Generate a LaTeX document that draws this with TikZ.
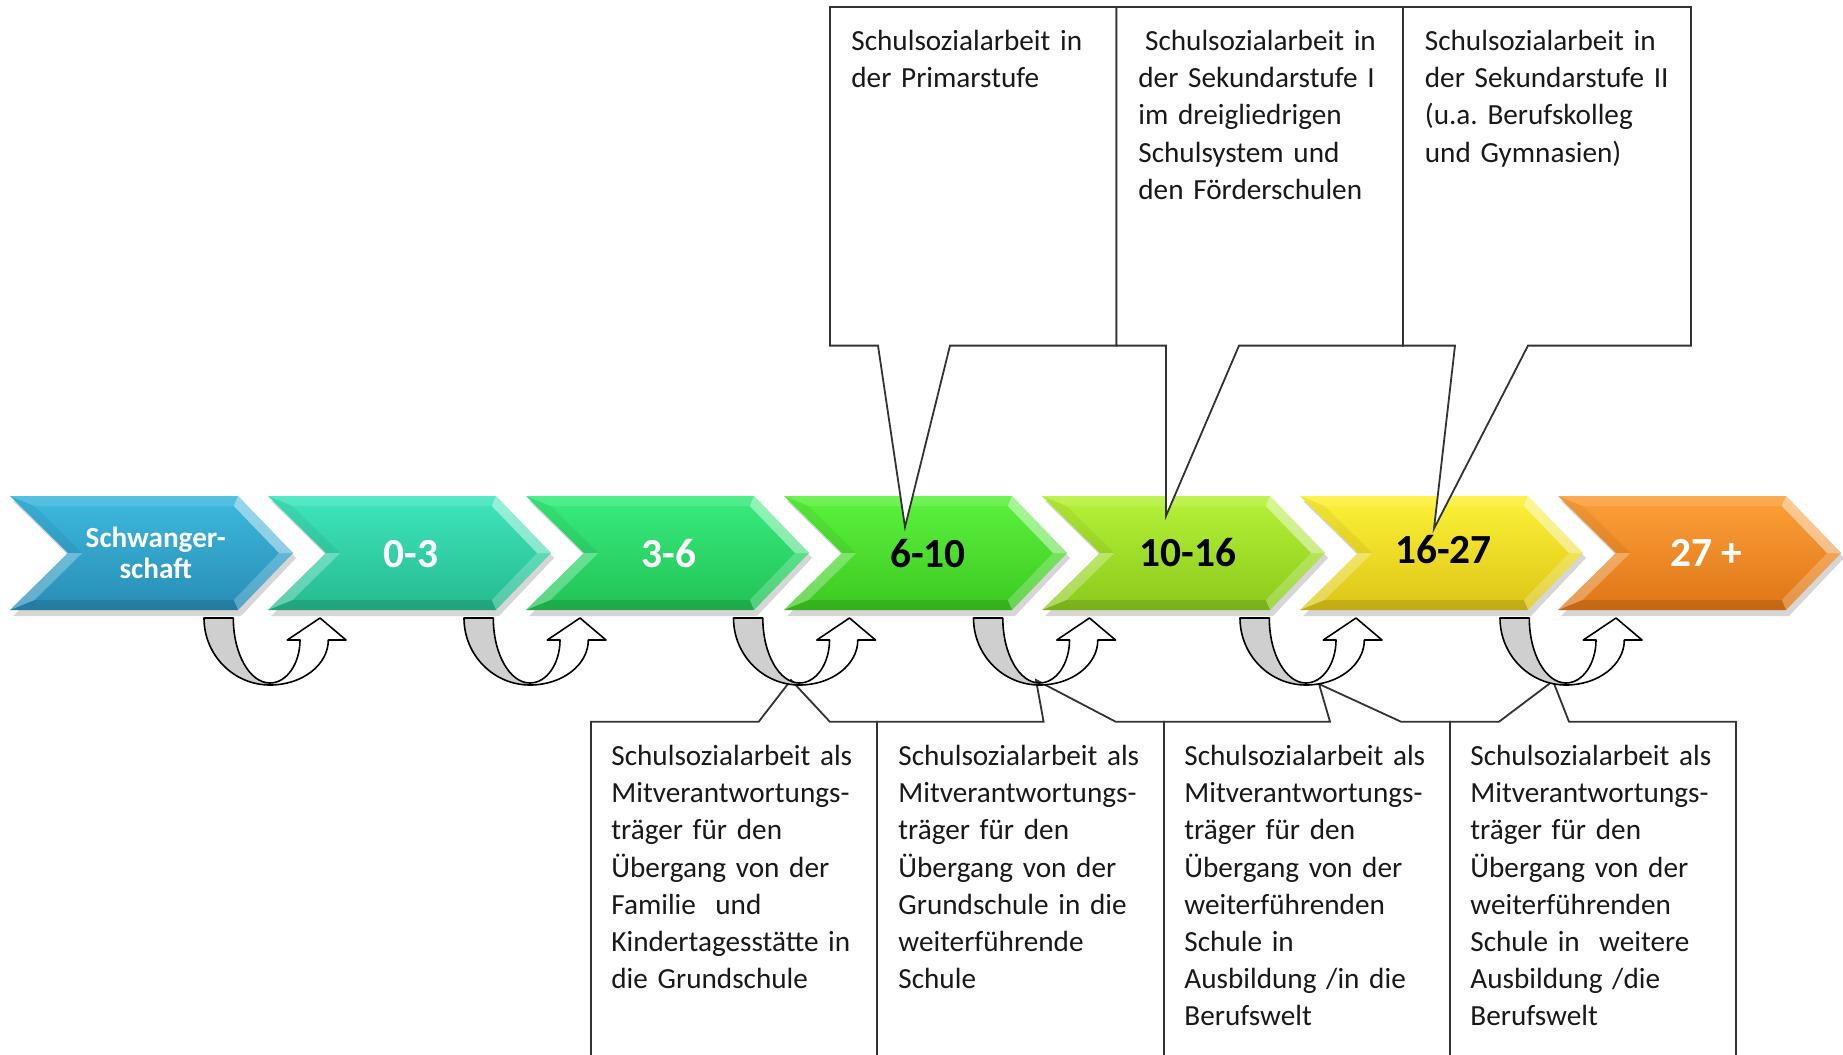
\documentclass[tikz,border=0pt]{standalone}
\usepackage{fontspec}
\setmainfont{Carlito}
\frenchspacing
\definecolor{c0t}{HTML}{3DB9DF}\definecolor{c0b}{HTML}{288DB5}
\definecolor{c1t}{HTML}{3FE6BE}\definecolor{c1b}{HTML}{25BA8D}
\definecolor{c2t}{HTML}{38EC7E}\definecolor{c2b}{HTML}{21C255}
\definecolor{c3t}{HTML}{5CF23E}\definecolor{c3b}{HTML}{3CC921}
\definecolor{c4t}{HTML}{B6F238}\definecolor{c4b}{HTML}{8BC91C}
\definecolor{c5t}{HTML}{FDF238}\definecolor{c5b}{HTML}{DCC516}
\definecolor{c6t}{HTML}{FDA03A}\definecolor{c6b}{HTML}{DE7615}
\definecolor{arrgray}{HTML}{CFCFCF}
\tikzset{
  boxline/.style={draw=black!80, line width=0.9pt, fill=white, line join=miter},
  arrline/.style={draw=black, line width=0.8pt, line join=round},
  boxtext/.style={anchor=north west, inner sep=0pt, text width=140pt, align=left,
    font=\fontsize{14.6}{18.6}\selectfont\frenchspacing, text=black!90},
  numlabel/.style={anchor=base, inner sep=0pt, font=\fontsize{20.7}{24}\selectfont\bfseries},
}
\begin{document}
\begin{tikzpicture}[x=0.5pt,y=-0.5pt]
\useasboundingbox (0,0) rectangle (1843,1055);
\clip (0,0) rectangle (1843,1055);
\fill[white] (0,0) rectangle (1843,1055);

% chevrons
\foreach \i/\ct/\cb in {0/c0t/c0b,1/c1t/c1b,2/c2t/c2b,3/c3t/c3b,4/c4t/c4b,5/c5t/c5b,6/c6t/c6b}{
  \pgfmathsetmacro\L{10+258*\i}
  \fill[black,opacity=.16] ({\L+3},501) -- ({\L+231},501) -- ({\L+286},558) -- ({\L+231},616) -- ({\L+3},616) -- ({\L+61},558) -- cycle;
  \path (\L,496) coordinate (A) ({\L+228},496) coordinate (B) ({\L+283},553) coordinate (C)
        ({\L+228},610) coordinate (D) (\L,610) coordinate (E) ({\L+58},553) coordinate (F)
        ({\L+24.5},506) coordinate (A1) ({\L+223.8},506) coordinate (B1) ({\L+269.1},553) coordinate (C1)
        ({\L+223.8},600) coordinate (D1) ({\L+24.5},600) coordinate (E1) ({\L+72.3},553) coordinate (F1);
  \shade[top color=\ct, bottom color=\cb] (A) -- (B) -- (C) -- (D) -- (E) -- (F) -- cycle;
  \fill[white,opacity=.12] (A)--(B)--(B1)--(A1)--cycle;
  \fill[white,opacity=.45] (B)--(C)--(C1)--(B1)--cycle;
  \fill[white,opacity=.22] (C)--(D)--(D1)--(C1)--cycle;
  \fill[black,opacity=.12] (D)--(E)--(E1)--(D1)--cycle;
  \fill[black,opacity=.05] (A)--(F)--(F1)--(A1)--cycle;
  \fill[white,opacity=.28] (F)--(E)--(E1)--(F1)--cycle;
}

% chevron labels
\node[anchor=north, inner sep=0pt, text width=100pt, align=center,
  font=\fontsize{14.6}{15.6}\selectfont\bfseries, text=white] (l0) at (155.7,525) {\strut Schwanger-\\schaft};
\node[numlabel, text=white] (l1) at (411,567) {0-3};
\node[numlabel, text=white] (l2) at (669,567) {3-6};
\node[numlabel] (l3) at (928,567) {6-10};
\node[numlabel] (l4) at (1188,566) {10-16};
\node[numlabel] (l5) at (1443.5,563) {16-27};
\node[numlabel, text=white] (l6) at (1706,566) {27 +};

% top callouts
\draw[boxline] (830,7) -- (1116.5,7) -- (1116.5,345.6) -- (950,345.6) -- (905,527) -- (878,345.6) -- (830,345.6) -- cycle;
\draw[boxline] (1116.5,7) -- (1403,7) -- (1403,345.6) -- (1239,345.6) -- (1166,516) -- (1166,345.6) -- (1116.5,345.6) -- cycle;
\draw[boxline] (1403,7) -- (1691,7) -- (1691,345.6) -- (1528,345.6) -- (1434,528.6) -- (1455,345.6) -- (1403,345.6) -- cycle;

\node[boxtext] (t1) at (851,24) {\strut Schulsozialarbeit in\\der Primarstufe};
\node[boxtext] (t2) at (1138,24) {\strut\hspace*{0.23em}Schulsozialarbeit in\\der Sekundarstufe I\\im dreigliedrigen\\Schulsystem und\\den Förderschulen};
\node[boxtext] (t3) at (1424.5,24) {\strut Schulsozialarbeit in\\der Sekundarstufe II\\(u.a. Berufskolleg\\und Gymnasien)};

% bottom callouts
\draw[boxline] (591,1080) -- (591,721.7) -- (758.7,721.7) -- (791,680) -- (829.8,721.7) -- (877,721.7) -- (877,1080);
\draw[boxline] (877,1080) -- (877,721.7) -- (1043.6,721.7) -- (1036,680) -- (1115.6,721.7) -- (1164,721.7) -- (1164,1080);
\draw[boxline] (1164,1080) -- (1164,721.7) -- (1330,721.7) -- (1319,684) -- (1401,721.7) -- (1450,721.7) -- (1450,1080);
\draw[boxline] (1450,1080) -- (1450,721.7) -- (1499,721.7) -- (1553,681) -- (1569,721.7) -- (1736,721.7) -- (1736,1080);

\node[boxtext] (b1) at (611,739) {\strut Schulsozialarbeit als\\Mitverantwortungs-\\träger für den\\Übergang von der\\Familie~~und\\Kindertagesstätte in\\die Grundschule};
\node[boxtext] (b2) at (898,739) {\strut Schulsozialarbeit als\\Mitverantwortungs-\\träger für den\\Übergang von der\\Grundschule in die\\weiterführende\\Schule};
\node[boxtext] (b3) at (1184,739) {\strut Schulsozialarbeit als\\Mitverantwortungs-\\träger für den\\Übergang von der\\weiterführenden\\Schule in\\Ausbildung /in die\\Berufswelt};
\node[boxtext] (b4) at (1470,739) {\strut Schulsozialarbeit als\\Mitverantwortungs-\\träger für den\\Übergang von der\\weiterführenden\\Schule in~~weitere\\Ausbildung /die\\Berufswelt};

% U-turn arrows
\foreach \g in {204,464,733.5,973.5,1240,1500}{
  \filldraw[arrline, fill=arrgray] (\g,618) .. controls (\g,655) and ({\g+29.5},685) .. ({\g+66},685)
     -- ({\g+66},683) .. controls ({\g+45.7},683) and ({\g+29.3},653.9) .. ({\g+29.3},618) -- cycle;
  \filldraw[arrline, fill=white] ({\g+66},685) .. controls ({\g+98.2},685) and ({\g+124.3},664.9) .. ({\g+124.3},640)
     -- ({\g+142},640) -- ({\g+116},618) -- ({\g+83.3},640) -- ({\g+96},640)
     .. controls ({\g+96},663.7) and ({\g+82.6},683) .. ({\g+66},683) -- cycle;
}
\end{tikzpicture}
\end{document}
